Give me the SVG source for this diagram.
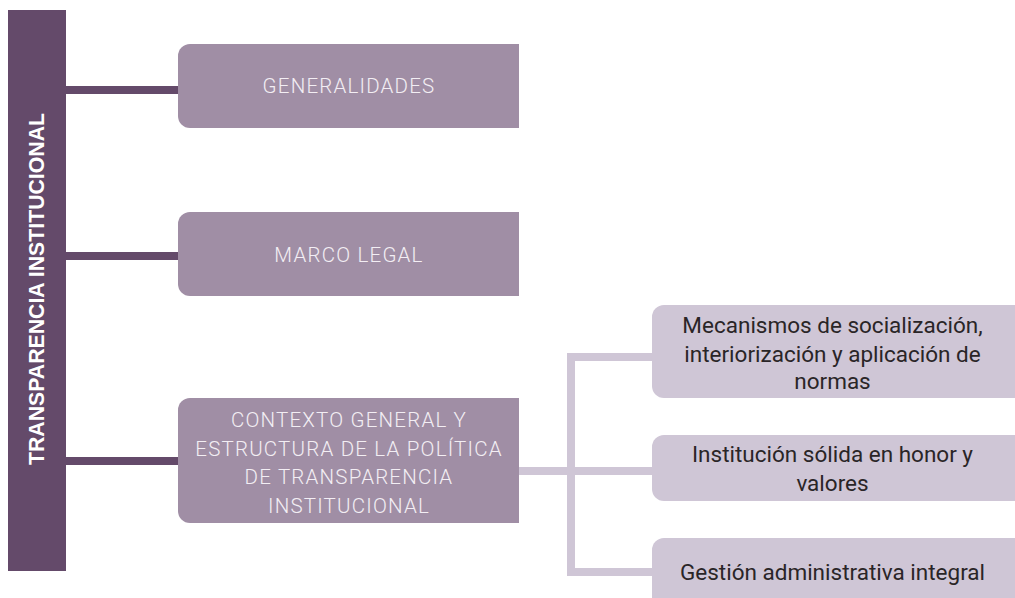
<svg xmlns="http://www.w3.org/2000/svg" width="1015" height="598" viewBox="0 0 1015 598">
<style>
.dark{fill:#644a6a}
.mid{fill:#a08ea5}
.light{fill:#cfc6d6}
.cd{stroke:#644a6a;stroke-width:8;fill:none}
.cl{stroke:#cfc6d6;stroke-width:8;fill:none}
.tm{font-family:Roboto,"Liberation Sans",sans-serif;font-weight:300;font-size:20.5px;fill:#f3eef4;text-anchor:middle;letter-spacing:1.2px}
.tl{font-family:Roboto,"Liberation Sans",sans-serif;font-weight:400;font-size:22.5px;fill:#2a2527;text-anchor:middle}
.tv{font-family:"Liberation Sans",Arial,sans-serif;font-weight:700;font-size:21.5px;fill:#ffffff;text-anchor:middle}
</style>
<g id="connectors">
<line class="cd" x1="66" y1="90" x2="180" y2="90"/>
<line class="cd" x1="66" y1="256" x2="180" y2="256"/>
<line class="cd" x1="66" y1="461" x2="180" y2="461"/>
<line class="cl" x1="517" y1="471" x2="571" y2="471"/>
<polyline class="cl" points="654,357 571,357 571,572 654,572"/>
<line class="cl" x1="571" y1="471" x2="654" y2="471"/>
</g>
<g id="root">
<rect class="dark" x="8" y="10" width="58" height="561"/>
<text class="tv" transform="translate(44,289) rotate(-90)" textLength="352" lengthAdjust="spacingAndGlyphs">TRANSPARENCIA INSTITUCIONAL</text>
</g>
<g id="generalidades">
<path class="mid" d="M190,44 H519 V128 H190 A12,12 0 0 1 178,116 V56 A12,12 0 0 1 190,44 Z"/>
<text class="tm" x="349" y="93">GENERALIDADES</text>
</g>
<g id="marco-legal">
<path class="mid" d="M190,212 H519 V296 H190 A12,12 0 0 1 178,284 V224 A12,12 0 0 1 190,212 Z"/>
<text class="tm" x="349" y="262">MARCO LEGAL</text>
</g>
<g id="contexto">
<path class="mid" d="M190,398 H519 V523 H190 A12,12 0 0 1 178,511 V410 A12,12 0 0 1 190,398 Z"/>
<text class="tm" x="349" y="427">CONTEXTO GENERAL Y</text>
<text class="tm" x="349" y="455.5">ESTRUCTURA DE LA POLÍTICA</text>
<text class="tm" x="349" y="484">DE TRANSPARENCIA</text>
<text class="tm" x="349" y="512.5">INSTITUCIONAL</text>
</g>
<g id="mecanismos">
<rect class="light" x="652" y="305" width="400" height="93" rx="12"/>
<text class="tl" x="832.5" y="333">Mecanismos de socialización,</text>
<text class="tl" x="832.5" y="362">interiorización y aplicación de</text>
<text class="tl" x="832.5" y="389">normas</text>
</g>
<g id="institucion">
<rect class="light" x="652" y="435" width="400" height="66" rx="12"/>
<text class="tl" x="832.5" y="462">Institución sólida en honor y</text>
<text class="tl" x="832.5" y="491">valores</text>
</g>
<g id="gestion">
<rect class="light" x="652" y="538" width="400" height="80" rx="12"/>
<text class="tl" x="832.5" y="580">Gestión administrativa integral</text>
</g>
</svg>
